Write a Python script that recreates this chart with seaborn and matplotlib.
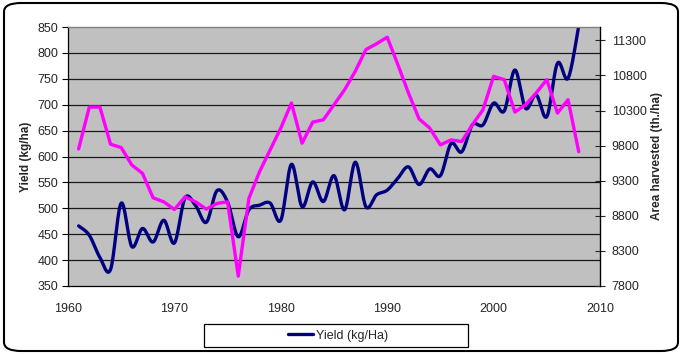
import numpy as np
import pandas as pd
import matplotlib
matplotlib.use("Agg")
import matplotlib.pyplot as plt
import seaborn as sns
from matplotlib.patches import FancyBboxPatch, Rectangle
from matplotlib.lines import Line2D

# ---------------- data ----------------
years = list(range(1961, 2009))
yield_kg_ha = [466, 448, 405, 382, 510, 426, 461, 435, 477, 433,
               520, 505, 473, 534, 512, 445, 497, 506, 510, 477,
               585, 503, 551, 513, 563, 497, 589, 503, 526, 535,
               558, 580, 546, 576, 563, 625, 609, 661, 661, 703,
               688, 767, 693, 719, 677, 780, 751, 852]
area_th_ha = [9753, 10349, 10349, 9820, 9772, 9524, 9405, 9056, 8999, 8890,
              9070, 8999, 8895, 8976, 8999, 7940, 9047, 9428, 9739, 10050,
              10407, 9835, 10135, 10168, 10382, 10597, 10860, 11169, 11251, 11345,
              10955, 10550, 10180, 10050, 9810, 9882, 9858, 10096, 10311, 10787,
              10740, 10278, 10382, 10550, 10740, 10264, 10454, 9714]
x_ticks = [1960, 1970, 1980, 1990, 2000, 2010]
left_ticks = list(range(350, 851, 50))
right_ticks = list(range(7800, 11301, 500))
yield_label = "Yield (kg/Ha)"


def excel_smooth(x, y, steps=16):
    """Excel-style smoothed line rendering (cubic Bezier through every point)."""
    x = np.asarray(x, float)
    y = np.asarray(y, float)
    P = np.column_stack([x, y])
    n = len(P)
    out = [P[0]]
    t = np.linspace(0, 1, steps + 1)[1:]
    for i in range(n - 1):
        p0 = P[i - 1] if i > 0 else P[i]
        p1, p2 = P[i], P[i + 1]
        p3 = P[i + 2] if i + 2 < n else P[i + 1]
        c1 = p1 + (p2 - p0) / 6.0
        c2 = p2 - (p3 - p1) / 6.0
        for tt in t:
            b = ((1 - tt) ** 3) * p1 + 3 * ((1 - tt) ** 2) * tt * c1 + 3 * (1 - tt) * tt ** 2 * c2 + tt ** 3 * p2
            out.append(b)
    out = np.array(out)
    return out[:, 0], out[:, 1]


sns.set_style("white")
plt.rcParams["font.family"] = ["Liberation Sans", "DejaVu Sans"]
plt.rcParams["font.size"] = 9

W, H = 682, 354
fig = plt.figure(figsize=(W / 100, H / 100), dpi=100)
ax = fig.add_axes([68 / W, 1 - 286 / H, (600 - 68) / W, (286 - 27) / H])
ax.set_facecolor("#C0C0C0")

sx, sy = excel_smooth(years, yield_kg_ha)
df_y = pd.DataFrame({"year": sx, "val": sy})
sns.lineplot(data=df_y, x="year", y="val", ax=ax, color="#000080", lw=2.4,
             sort=False, estimator=None, legend=False)

ax.set_xlim(1960, 2010)
ax.set_ylim(350, 850)
ax.set_xticks(x_ticks)
ax.set_yticks(left_ticks)
for v in left_ticks[1:-1]:
    ax.axhline(v, color="#1a1a1a", lw=0.9, zorder=0.5)
ax.set_xlabel("")
ax.set_ylabel("Yield (kg/ha)", fontweight="bold", fontsize=8.5, labelpad=4)
ax.tick_params(axis="both", direction="out", length=4, width=0.8, color="#000000",
               labelsize=9, pad=3)
ax.tick_params(axis="x", pad=8)
ax.spines["top"].set_color("#808080")
ax.spines["top"].set_linewidth(1.0)
for s in ["left", "bottom", "right"]:
    ax.spines[s].set_color("#000000")
    ax.spines[s].set_linewidth(0.9)

ax2 = ax.twinx()
df_a = pd.DataFrame({"year": years, "val": area_th_ha})
sns.lineplot(data=df_a, x="year", y="val", ax=ax2, color="#FF00FF", lw=2.4,
             sort=False, estimator=None, legend=False)
ax2.set_ylim(7800, 11490)
ax2.set_yticks(right_ticks)
ax2.set_xlim(1960, 2010)
ax2.set_ylabel("Area harvested (th./ha)", fontweight="bold", fontsize=8.5, labelpad=3)
ax2.tick_params(axis="y", direction="inout", length=7, width=0.8, labelsize=9, pad=5)
ax2.spines["right"].set_color("#000000")
ax2.spines["top"].set_visible(False)
ax2.spines["left"].set_visible(False)
ax2.spines["bottom"].set_visible(False)

# legend box
fig.patches.append(Rectangle((204 / W, 1 - 347 / H), (468 - 204) / W, (347 - 324) / H,
                             transform=fig.transFigure, facecolor="white",
                             edgecolor="black", lw=0.9))
handle = Line2D([], [], color="#000080", lw=2.4)
fig.legend([handle], [yield_label], loc="center", bbox_to_anchor=(338 / W, 1 - 335.5 / H),
           frameon=False, fontsize=9, handlelength=2.0, handletextpad=0.2)

# outer rounded border
fig.patches.append(FancyBboxPatch((4 / W, 3 / H), (W - 8) / W, (H - 6) / H,
                                  boxstyle="round,pad=0,rounding_size=0.025",
                                  transform=fig.transFigure, facecolor="none",
                                  edgecolor="black", lw=1.5))

fig.savefig("out.png", dpi=100)
